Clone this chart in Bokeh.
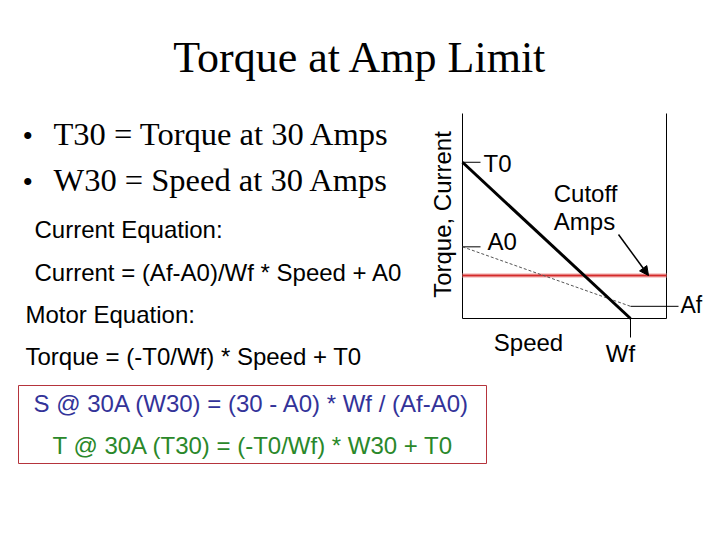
from math import pi
from bokeh.plotting import figure
from bokeh.models import Range1d, Label, Arrow, NormalHead
from bokeh.embed import file_html
from bokeh.resources import INLINE

# ---- data (motor model, arbitrary units) ----
Wf = 100          # free speed
T0 = 109          # stall torque
A0 = 50           # stall current
Af = 8.5          # free-run current
CUTOFF = 30       # amp limit
speed = [0, Wf]
torque = [T0, 0]
current = [A0, Af]

title_text = "Torque at Amp Limit"
bullets = ["T30 = Torque at 30 Amps", "W30 = Speed at 30 Amps"]
eq_lines = ["Current Equation:", "Current = (Af-A0)/Wf * Speed + A0",
            "Motor Equation:", "Torque = (-T0/Wf) * Speed + T0"]
box_lines = ["S @ 30A (W30) = (30 - A0) * Wf / (Af-A0)",
             "T @ 30A (T30) = (-T0/Wf) * W30 + T0"]
x_label = "Speed"
y_label = "Torque, Current"

# ---- layout (pixels on the slide) ----
W, H = 704, 524
CL, CR, CT, CB = 462, 666, 113, 318      # chart box
WF_PX, CUT_PX = 630, 275                  # where Wf and the cutoff sit
SX = (WF_PX - CL) / Wf                    # px per speed unit
SY = (CB - CUT_PX) / CUTOFF               # px per amp/torque unit
XMAX = (CR - CL) / SX
YMAX = (CB - CT) / SY

p = figure(width=W, height=H, output_backend="svg", toolbar_location=None,
           x_range=Range1d(-CL / SX, (W - CL) / SX),
           y_range=Range1d(-(H - CB) / SY, CB / SY),
           x_axis_type=None, y_axis_type=None, min_border=0)
p.outline_line_color = None
p.background_fill_color = "white"
p.border_fill_color = "white"


def pos(xr, yr):
    return (xr - CL) / SX, (CB - yr) / SY


SANS = "Liberation Sans"
SERIF = "Liberation Serif"


def txt(text, xr, yr, size, font=SANS, color="black", align="left", angle=0, **kw):
    # baseline position on the slide; compensate label baseline offset
    off = 0.35 * size
    if angle:
        xr = xr - off
    else:
        yr = yr - off
    x, y = pos(xr, yr)
    lab = Label(x=x, y=y, text=text, text_font=font, text_font_size=f"{size}px",
                text_color=color, text_align=align, text_baseline="alphabetic",
                angle=angle, **kw)
    p.add_layout(lab)
    return lab


def hline(x0, x1, y, **kw):
    p.line([x0, x1], [y, y], **kw)


def vline(x, y0, y1, **kw):
    p.line([x, x], [y0, y1], **kw)


ax = dict(line_color="black", line_width=1)
# chart frame (open at the top)
vline(0, 0, YMAX, **ax)
vline(XMAX, 0, YMAX, **ax)
hline(0, XMAX, 0, **ax)
# leaders / ticks
hline(0, 18 / SX, T0, **ax)
hline(0, 18 / SX, A0, **ax)
hline(Wf, Wf + 48 / SX, Af, **ax)
vline(Wf, 0, -19 / SY, **ax)

# cutoff line
hline(0, XMAX, CUTOFF, line_color="#f4b0b0", line_width=5, line_alpha=0.6)
hline(0, XMAX, CUTOFF, line_color="#d42a2a", line_width=2)

# curves
p.line(speed, current, line_color="#555555", line_width=1, line_dash="3 2")
p.line(speed, torque, line_color="black", line_width=3)

# chart labels
txt("T0", 483, 171, 24)
txt("A0", 487, 249, 24)
txt("Cutoff", 585, 201, 24, align="center")
txt("Amps", 584, 229, 24, align="center")
txt("Af", 680, 313, 23)
txt(x_label, 528, 350, 24, align="center")
txt("Wf", 620, 361, 24, align="center")
txt(y_label, 450, 214, 24, align="center", angle=pi / 2)

x0, y0 = pos(618, 234)
x1, _ = pos(648, 275)
p.add_layout(Arrow(x_start=x0, y_start=y0, x_end=x1, y_end=CUTOFF, line_width=1.5,
                   line_color="black",
                   end=NormalHead(size=9, fill_color="black", line_color="black")))

# slide text
txt(title_text, 360, 72, 44, font=SERIF, align="center")
for yb, b in zip([145, 191], bullets):
    txt("\u2022", 22, yb, 30, font=SERIF)
    txt(b, 53, yb, 32.5, font=SERIF)

for t, (xr, yb) in zip(eq_lines, [(34, 237), (34, 280), (25, 322), (25, 364)]):
    txt(t, xr, yb, 24)

bx0, by0 = pos(18, 463)
bx1, by1 = pos(486, 385)
p.quad(left=bx0, right=bx1, bottom=by0, top=by1, fill_color=None,
       line_color="#b5343c", line_width=1)
txt(box_lines[0], 33, 411, 24, color="#333399")
txt(box_lines[1], 52, 453, 24, color="#2a882a")

open("out.html", "w").write(file_html(p, INLINE))
